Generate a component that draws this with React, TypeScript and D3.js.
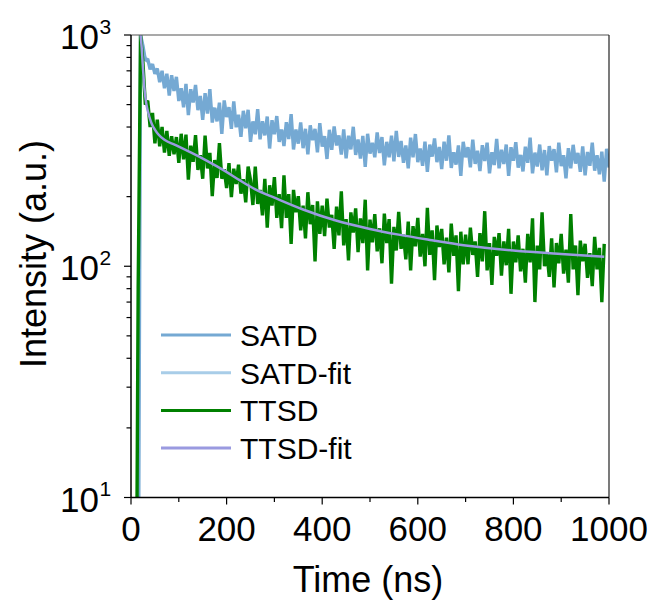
import React from 'react';
import * as d3 from 'd3';

const timeStep = 5; // ns between samples (t = index * timeStep)

const satdValues = [1,1,1,2,
1000,898,776,788,710,749,679,716,625,700,589,680,547,670,573,659,518,
588,487,615,450,583,511,608,473,545,430,560,457,583,418,485,423,510,374,521,442,
487,393,516,399,452,363,470,395,475,345,423,372,478,354,424,368,444,323,428,372,
446,345,390,331,420,355,455,320,390,339,419,324,393,305,407,351,393,311,416,329,
365,291,389,319,402,333,368,304,391,293,367,320,401,303,353,292,366,269,374,307,
342,296,379,309,362,273,345,296,367,284,385,297,348,280,333,265,360,296,373,282,
323,272,346,256,336,298,357,282,328,263,346,286,368,266,311,275,333,246,345,296,
327,268,353,277,316,258,334,285,342,252,311,274,355,265,319,277,336,246,327,286,
344,267,303,257,329,280,360,252,310,270,336,260,318,247,331,286,321,255,342,271,
302,240,324,265,335,278,309,256,330,247,312,272,342,259,302,250,313,232,322,267];

const ttsdValues = [1,1,1,81,1000,
760,500,520,400,460,340,430,330,400,310,385,300,365,305,362,
280,374,290,371,237,332,283,369,261,302,239,367,265,309,201,288,241,341,239,263,
218,279,199,264,227,275,206,238,189,270,236,184,270,186,214,166,239,147,224,183,
243,162,205,146,247,162,205,125,214,171,201,143,183,132,209,152,184,105,191,138,
183,135,196,147,167,119,181,136,211,123,160,106,171,140,178,115,161,126,194,96,
159,127,168,116,146,103,169,126,160,84,148,117,172,119,137,107,156,96,149,122,
162,110,138,100,179,112,143,87,150,121,145,102,133,94,153,111,136,78,141,102,
137,102,147,112,128,90,139,105,173,96,126,83,134,111,139,91,128,101,145,76,
128,104,136,95,119,85,138,104,161,70,123,97,171,100,115,90,132,81,126,103,
138,93,118,85,168,97,123,75,129,105,125,89,114,82,134,97,120,70,125];

const satdFitTimes = [20,25,30,40,50,60,80,100,127,150,200,250,300,350,400,450,500,600,700,800,900,1000];
const satdFitValues = [1000,880,800,740,700,665,615,580,540,506,456,414,390,372,356,344,333,315,305,300,294,288];

const ttsdFitTimes = [20,22,25,28,32,36,40,45,50,57,70,92,127,160,197,228,260,300,360,427,500,560,625,700,800,900,990];
const ttsdFitValues = [1000,900,720,590,505,462,432,406,390,372,352,335,309,285,258,235,215,198,176,158,145,137,130,123,117,113,110];

const xMajorTicks = [0, 200, 400, 600, 800, 1000];
const xMinorTicks = [100, 300, 500, 700, 900];
const yExponents = [1, 2, 3];

const seriesNames = ['SATD', 'SATD-fit', 'TTSD', 'TTSD-fit'];
const seriesColors = ['#75a9d3', '#a8cde8', '#008000', '#9a9ae0'];

const W = 654, H = 604;
const plot = { left: 131, right: 609, top: 35, bottom: 497.5 };

export default function App() {
  const x = d3.scaleLinear().domain([0, 1000]).range([plot.left, plot.right]);
  const y = d3.scaleLog().domain([10, 1000]).range([plot.bottom, plot.top]);

  const dataLine = d3.line<number>()
    .x((_, i) => x(i * timeStep))
    .y((v) => y(Math.max(v, 0.5)));

  const fitLine = d3.line<[number, number]>()
    .x((d) => x(d[0]))
    .y((d) => y(d[1]))
    .curve(d3.curveMonotoneX);

  const satdFit = satdFitTimes.map((t, i) => [t, satdFitValues[i]] as [number, number]);
  const ttsdFit = ttsdFitTimes.map((t, i) => [t, ttsdFitValues[i]] as [number, number]);

  const yMinor: number[] = [];
  [10, 100].forEach((d) => { for (let k = 2; k <= 9; k++) yMinor.push(d * k); });

  const font = "'Liberation Sans', Arial, sans-serif";

  const legendY0 = 335, legendDy = 37.7;

  return (
    <svg width={W} height={H} style={{ position: 'absolute', left: 0, top: 0, background: '#fff' }} fontFamily={font}>
      <defs>
        <clipPath id="plotClip">
          <rect x={plot.left} y={plot.top} width={plot.right - plot.left} height={plot.bottom - plot.top} />
        </clipPath>
      </defs>
      <rect x={0} y={0} width={W} height={H} fill="#fff" />

      <g clipPath="url(#plotClip)">
        <path d={fitLine(satdFit) || ''} fill="none" stroke={seriesColors[1]} strokeWidth={2.5} />
        <path d={dataLine(satdValues) || ''} fill="none" stroke={seriesColors[0]} strokeWidth={3.4} strokeLinejoin="bevel" />
        <path d={dataLine(ttsdValues) || ''} fill="none" stroke={seriesColors[2]} strokeWidth={3.4} strokeLinejoin="bevel" />
        <path d={fitLine(ttsdFit) || ''} fill="none" stroke={seriesColors[3]} strokeWidth={2.5} />
      </g>

      {/* frame */}
      <line x1={plot.left} x2={plot.right} y1={plot.top} y2={plot.top} stroke="#555" strokeWidth={1.2} />
      <line x1={plot.right} x2={plot.right} y1={plot.top} y2={plot.bottom} stroke="#222" strokeWidth={1.2} />
      <line x1={plot.left} x2={plot.right} y1={plot.bottom} y2={plot.bottom} stroke="#000" strokeWidth={1.5} />
      <line x1={plot.left} x2={plot.left} y1={plot.top} y2={plot.bottom} stroke="#000" strokeWidth={1.5} />

      {/* x ticks */}
      {xMajorTicks.map((t) => (
        <g key={'xm' + t}>
          <line x1={x(t)} x2={x(t)} y1={plot.bottom} y2={plot.bottom + 7} stroke="#000" strokeWidth={1.2} />
          <text x={x(t)} y={541} textAnchor="middle" fontSize={35} fill="#000">{t}</text>
        </g>
      ))}
      {xMinorTicks.map((t) => (
        <line key={'xn' + t} x1={x(t)} x2={x(t)} y1={plot.bottom} y2={plot.bottom + 4.5} stroke="#000" strokeWidth={1.2} />
      ))}

      {/* y ticks */}
      {yExponents.map((e) => {
        const v = Math.pow(10, e);
        const yy = y(v);
        return (
          <g key={'ym' + e}>
            <line x1={plot.left - 7} x2={plot.left} y1={yy} y2={yy} stroke="#000" strokeWidth={1.2} />
            <text x={99} y={yy + 14} textAnchor="end" fontSize={35} fill="#000">10</text>
            <text x={99.5} y={yy - 1.5} textAnchor="start" fontSize={21} fill="#000">{e}</text>
          </g>
        );
      })}
      {yMinor.map((v) => (
        <line key={'yn' + v} x1={plot.left - 4.5} x2={plot.left} y1={y(v)} y2={y(v)} stroke="#000" strokeWidth={1.2} />
      ))}

      {/* axis titles */}
      <text x={368} y={592} textAnchor="middle" fontSize={36} fill="#000">Time (ns)</text>
      <text transform={`translate(46, ${254}) rotate(-90)`} textAnchor="middle" fontSize={36} fill="#000">Intensity (a.u.)</text>

      {/* legend */}
      {seriesNames.map((name, i) => (
        <g key={name}>
          <line x1={161} x2={231} y1={legendY0 + i * legendDy} y2={legendY0 + i * legendDy} stroke={seriesColors[i]} strokeWidth={3} />
          <text x={240} y={legendY0 + i * legendDy + 11} fontSize={30} fill="#000">{name}</text>
        </g>
      ))}
    </svg>
  );
}
